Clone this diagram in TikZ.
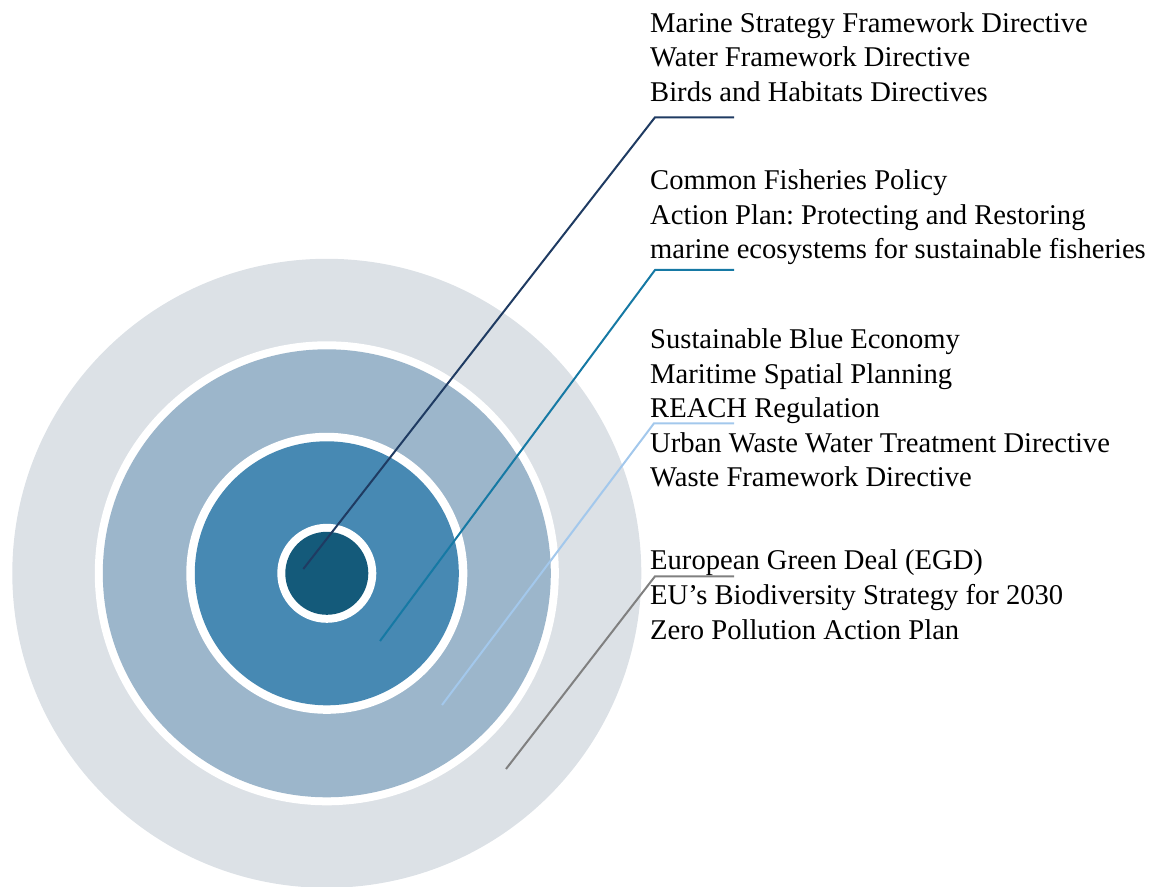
\documentclass[tikz,border=0pt]{standalone}
\usepackage{fontspec}
\setmainfont{Liberation Serif}
\frenchspacing
\definecolor{ringOuter}{HTML}{DCE1E6}
\definecolor{ringMid}{HTML}{9CB6CB}
\definecolor{ringInner}{HTML}{4789B3}
\definecolor{ringCore}{HTML}{145A7A}
\definecolor{lnNavy}{HTML}{1F3B62}
\definecolor{lnTeal}{HTML}{1679A4}
\definecolor{lnLight}{HTML}{A3C8EC}
\definecolor{lnGray}{HTML}{808080}
\tikzset{
  txt/.style={anchor=base west, inner sep=0pt, font=\fontsize{28.6}{34.5}\selectfont},
  leader/.style={line width=2pt, line join=miter},
  gap/.style={fill=white},
}
\begin{document}
\begin{tikzpicture}[x=1pt,y=1pt]
\useasboundingbox (0,0) rectangle (1155,886);
% concentric rings
\coordinate (c) at (326.8,312.7);
\fill[ringOuter] (c) circle (314.5);
\fill[gap] (c) circle (232);
\fill[ringMid] (c) circle (224);
\fill[gap] (c) circle (140.5);
\fill[ringInner] (c) circle (132);
\fill[gap] (c) circle (49.5);
\fill[ringCore] (c) circle (41.5);
% leader lines: start inside a ring, bend, run under the text
\coordinate (s1) at (303.3,317);   \coordinate (k1) at (655,768.7); \coordinate (e1) at (734,768.7);
\coordinate (s2) at (380,245);     \coordinate (k2) at (655,616);   \coordinate (e2) at (734,616);
\coordinate (s3) at (442,181);     \coordinate (k3) at (654,462.7); \coordinate (e3) at (734,462.7);
\coordinate (s4) at (506,117);     \coordinate (k4) at (655,309.7); \coordinate (e4) at (734,309.7);
\draw[leader, lnNavy]  (s1) -- (k1) -- (e1);
\draw[leader, lnTeal]  (s2) -- (k2) -- (e2);
\draw[leader, lnLight] (s3) -- (k3) -- (e3);
\draw[leader, lnGray]  (s4) -- (k4) -- (e4);
% policy texts
\node[txt] (t1a) at (650,853.5) {Marine Strategy Framework Directive};
\node[txt] (t1b) at (650,819)   {Water Framework Directive};
\node[txt] (t1c) at (650,784.5) {Birds and Habitats Directives};
\node[txt] (t2a) at (650,696)   {Common Fisheries Policy};
\node[txt] (t2b) at (650,661.5) {Action Plan: Protecting and Restoring};
\node[txt] (t2c) at (650,627)   {marine ecosystems for sustainable fisheries};
\node[txt] (t3a) at (650,537)   {Sustainable Blue Economy};
\node[txt] (t3b) at (650,502.5) {Maritime Spatial Planning};
\node[txt] (t3c) at (650,468)   {REACH Regulation};
\node[txt] (t3d) at (650,433.5) {Urban Waste Water Treatment Directive};
\node[txt] (t3e) at (650,399)   {Waste Framework Directive};
\node[txt] (t4a) at (650,316)   {European Green Deal (EGD)};
\node[txt] (t4b) at (650,281.5) {EU’s Biodiversity Strategy for 2030};
\node[txt] (t4c) at (650,247)   {Zero Pollution Action Plan};
\end{tikzpicture}
\end{document}
